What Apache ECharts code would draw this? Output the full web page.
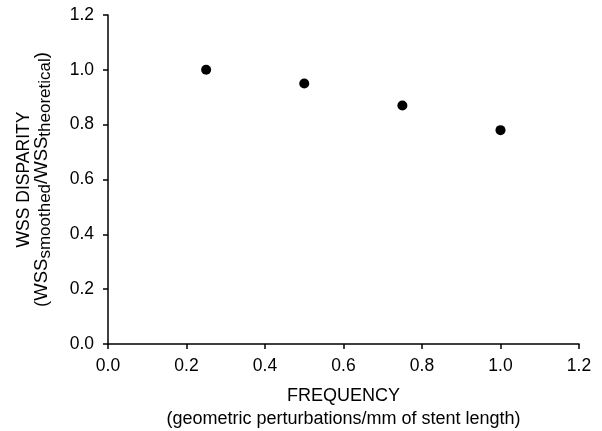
<!DOCTYPE html>
<html>
<head>
<meta charset="utf-8">
<script src="https://cdn.jsdelivr.net/npm/echarts@6/dist/echarts.min.js"></script>
<style>
html,body{margin:0;padding:0;background:#fff;}
#chart{width:602px;height:431px;}
</style>
</head>
<body>
<div id="chart"></div>
<script>
var frequency = [0.25, 0.5, 0.75, 1.0];
var disparity = [1.00, 0.95, 0.87, 0.78];
var xTicks = [0.0, 0.2, 0.4, 0.6, 0.8, 1.0, 1.2];
var yTicks = [0.0, 0.2, 0.4, 0.6, 0.8, 1.0, 1.2];

var points = frequency.map(function (f, i) { return [f, disparity[i]]; });
var font = 'Liberation Sans, Arial, sans-serif';

var chart = echarts.init(document.getElementById('chart'), null, {renderer: 'canvas'});
chart.setOption({
  animation: false,
  backgroundColor: '#fff',
  grid: {left: 108, right: 23, top: 15, bottom: 87, containLabel: false, outerBoundsMode: 'none'},
  xAxis: {
    type: 'value',
    min: xTicks[0], max: xTicks[xTicks.length - 1], interval: 0.2,
    name: '{n|FREQUENCY}\n{n|(geometric perturbations/mm of stent length)}',
    nameLocation: 'middle',
    nameGap: 41,
    nameTextStyle: {
      rich: {n: {fontFamily: font, fontSize: 18, color: '#000', lineHeight: 23}}
    },
    axisLine: {show: true, lineStyle: {color: '#000', width: 1.5}},
    axisTick: {show: true, inside: false, length: 5, lineStyle: {color: '#000', width: 1.5}},
    axisLabel: {color: '#000', fontFamily: font, fontSize: 17.5, margin: 13,
      formatter: function (v) { return v.toFixed(1); }},
    splitLine: {show: false}
  },
  yAxis: {
    type: 'value',
    min: yTicks[0], max: yTicks[yTicks.length - 1], interval: 0.2,
    name: '{n|WSS DISPARITY}\n{m|(WSS}{s|smoothed}{m|/WSS}{s|theoretical}{m|)}',
    nameLocation: 'middle',
    nameRotate: 90,
    nameGap: 58,
    nameTextStyle: {
      rich: {
        n: {fontFamily: font, fontSize: 17.5, color: '#000', lineHeight: 17},
        m: {fontFamily: font, fontSize: 18.5, color: '#000', lineHeight: 17},
        s: {fontFamily: font, fontSize: 17, color: '#000', lineHeight: 17, padding: [7, 0, 0, 0]}
      }
    },
    axisLine: {show: true, lineStyle: {color: '#000', width: 1.5}},
    axisTick: {show: true, inside: false, length: 5, lineStyle: {color: '#000', width: 1.5}},
    axisLabel: {color: '#000', fontFamily: font, fontSize: 17.5, margin: 14,
      formatter: function (v) { return v.toFixed(1); }},
    splitLine: {show: false}
  },
  series: [{
    type: 'scatter',
    data: points,
    symbol: 'circle',
    symbolSize: 10,
    itemStyle: {color: '#000', opacity: 1}
  }]
});
</script>
</body>
</html>
